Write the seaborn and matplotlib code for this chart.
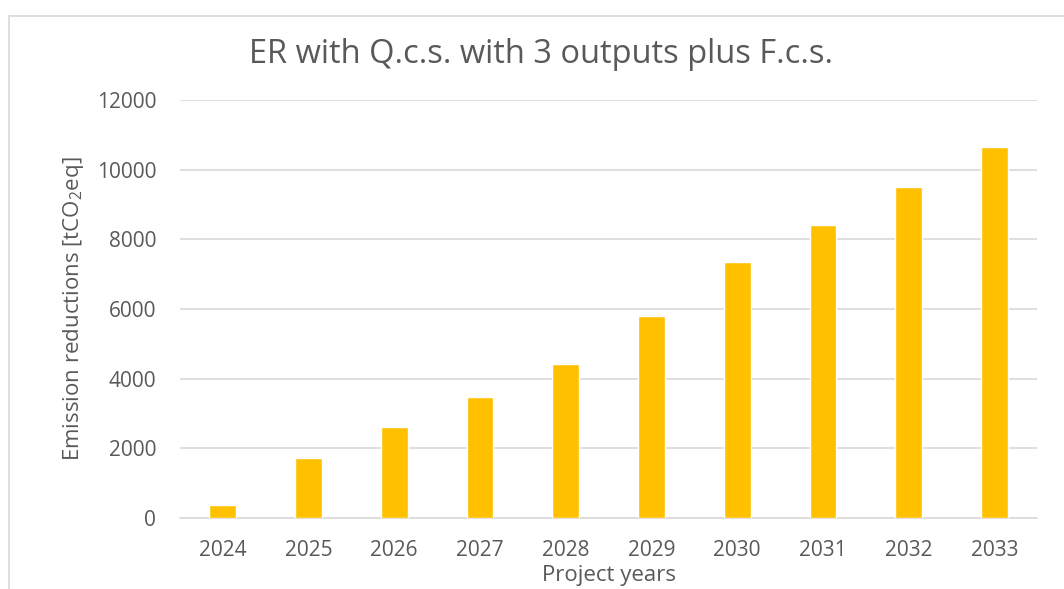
import matplotlib
matplotlib.use('Agg')
import matplotlib.pyplot as plt
import seaborn as sns
import pandas as pd
from matplotlib.lines import Line2D

# data
years = ['2024', '2025', '2026', '2027', '2028', '2029', '2030', '2031', '2032', '2033']
reductions = [360, 1730, 2600, 3480, 4410, 5810, 7360, 8410, 9510, 10650]

df = pd.DataFrame({'year': years, 'er': reductions})

sns.set_theme(style='white')
plt.rcParams['font.family'] = ['Open Sans', 'DejaVu Sans']
plt.rcParams['mathtext.fontset'] = 'custom'
plt.rcParams['mathtext.rm'] = 'Open Sans'

txt = '#595959'

fig = plt.figure(figsize=(10.64, 5.89), dpi=100)
ax = fig.add_axes([0.169, 0.1205, 0.806, 0.7095])

sns.barplot(data=df, x='year', y='er', color='#FFC000', width=0.31,
            saturation=1, ax=ax, zorder=3)

ax.set_ylim(0, 12000)
ax.set_yticks(range(0, 12001, 2000))
ax.yaxis.grid(True, color='#D9D9D9', linewidth=1.2, zorder=0)
ax.set_axisbelow(True)
for s in ['top', 'right', 'left']:
    ax.spines[s].set_visible(False)
ax.spines['bottom'].set_color('#D9D9D9')
ax.spines['bottom'].set_linewidth(1.2)

ax.tick_params(axis='both', length=0, labelsize=15, colors=txt)
ax.tick_params(axis='x', pad=16)
ax.tick_params(axis='y', pad=17)

ax.set_xlabel('Project years', fontsize=16, color=txt, labelpad=3)
ax.set_ylabel('Emission reductions [tCO$\\mathregular{_2}$eq]', fontsize=16,
              color=txt, labelpad=8)

fig.text(0.508, 0.908, 'ER with Q.c.s. with 3 outputs plus F.c.s.',
         ha='center', va='center', fontsize=23.5, color=txt)

# chart frame
fig.add_artist(Line2D([9 / 1064, 9 / 1064], [0, 1 - 16 / 589], color='#D9D9D9', linewidth=1.2))
fig.add_artist(Line2D([9 / 1064, 1], [1 - 16 / 589, 1 - 16 / 589], color='#D9D9D9', linewidth=1.2))

fig.savefig('out.png', dpi=100)
